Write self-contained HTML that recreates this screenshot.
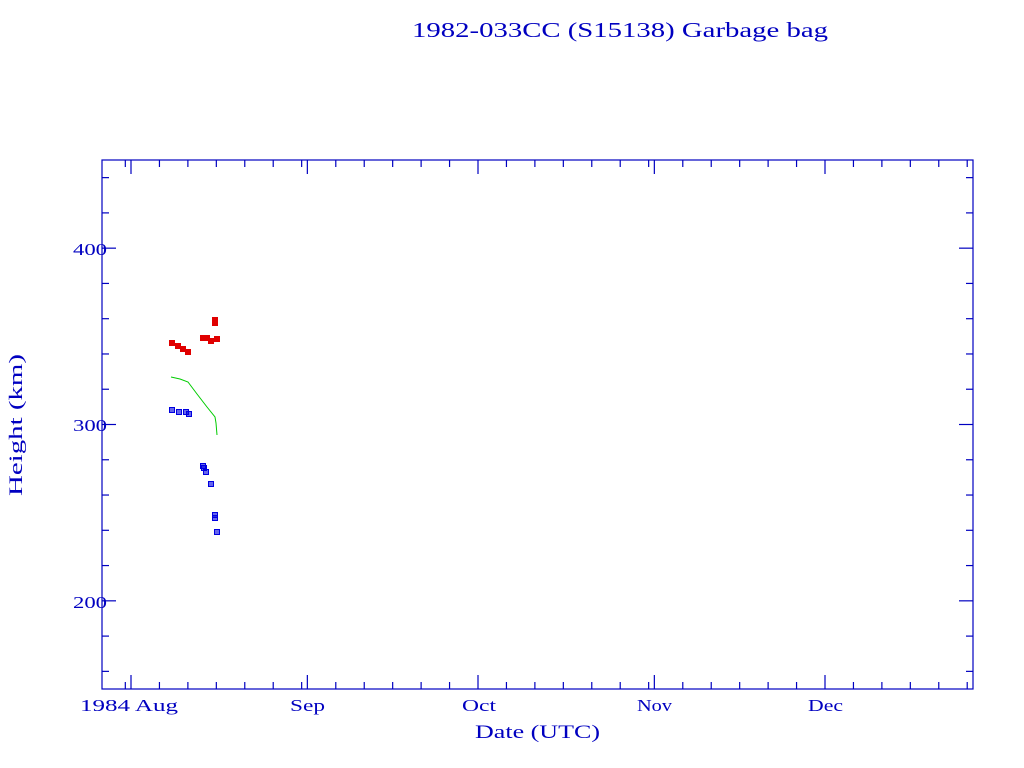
<!DOCTYPE html>
<html><head><style>body{margin:0;background:#fff}svg{display:block}</style></head><body>
<svg width="1024" height="768" xmlns="http://www.w3.org/2000/svg" font-family="Liberation Serif, serif" fill="#0000c0">
<rect width="1024" height="768" fill="#fff"/>
<text x="412" y="37" font-size="21" textLength="416" lengthAdjust="spacingAndGlyphs">1982-033CC (S15138) Garbage bag</text>
<rect x="102" y="160" width="871" height="529" fill="none" stroke="#0000c0" stroke-width="1.2"/>
<g stroke="#0000c0" stroke-width="1.2" id="ticks"></g>
<g font-size="17">
<text x="73" y="255" textLength="34" lengthAdjust="spacingAndGlyphs">400</text>
<text x="73" y="431" textLength="34" lengthAdjust="spacingAndGlyphs">300</text>
<text x="73" y="608" textLength="34" lengthAdjust="spacingAndGlyphs">200</text>
<text x="80" y="711" textLength="98" lengthAdjust="spacingAndGlyphs">1984 Aug</text>
<text x="290" y="711" textLength="35" lengthAdjust="spacingAndGlyphs">Sep</text>
<text x="462" y="711" textLength="34" lengthAdjust="spacingAndGlyphs">Oct</text>
<text x="637" y="711" textLength="35" lengthAdjust="spacingAndGlyphs">Nov</text>
<text x="808" y="711" textLength="35" lengthAdjust="spacingAndGlyphs">Dec</text>
<text x="475" y="738" font-size="19" textLength="125" lengthAdjust="spacingAndGlyphs">Date (UTC)</text>
<text transform="translate(22,496) rotate(-90)" font-size="19" textLength="142" lengthAdjust="spacingAndGlyphs">Height (km)</text>
</g>
<polyline fill="none" stroke="#00cc00" stroke-width="1" points="171,377 180,379 188,382 197,394 207,407 215,417 216,423 217,435"/>
<g fill="#e00000" stroke="#e00000" id="red"></g>
<g fill="#0000e0" stroke="#0000e0" id="blue"></g>
<script>
var ns="http://www.w3.org/2000/svg";
function el(p,t,a){var e=document.createElementNS(ns,t);for(var k in a)e.setAttribute(k,a[k]);p.appendChild(e);}
var T=document.getElementById("ticks");
function yv(v){return 689-(v-150)*529/300;}
for(var v=160;v<450;v+=20){var y=yv(v),L=(v%100==0)?14:7;el(T,"line",{x1:102,y1:y,x2:102+L,y2:y});el(T,"line",{x1:973,y1:y,x2:973-L,y2:y});}
var ppd=694/122;function xd(d){return 131+d*ppd;}
var months=[[-31,31],[0,31],[31,30],[61,31],[92,30],[122,31]];
months.forEach(function(m){for(var d=1;d<=m[1];d+=5){var x=xd(m[0]+d-1);if(x<103||x>972)continue;var L=(d==1)?14:7;el(T,"line",{x1:x,y1:689,x2:x,y2:689-L});el(T,"line",{x1:x,y1:160,x2:x,y2:160+L});}});
var R=document.getElementById("red"),B=document.getElementById("blue");
[[172,343],[178,346],[183,349],[188,352],[203,338],[207,338],[211,341],[217,339],[215,320],[215,323]].forEach(function(p){el(R,"rect",{x:p[0]-2.5,y:p[1]-2.5,width:5,height:5});});
[[172,410],[179,412],[186,412],[189,414],[203,466],[204,468],[206,472],[211,484],[215,515],[215,518],[217,532]].forEach(function(p){el(B,"rect",{x:p[0]-2.5,y:p[1]-2.5,width:5,height:5,"fill-opacity":0.6});});
</script>
</svg>
</body></html>
